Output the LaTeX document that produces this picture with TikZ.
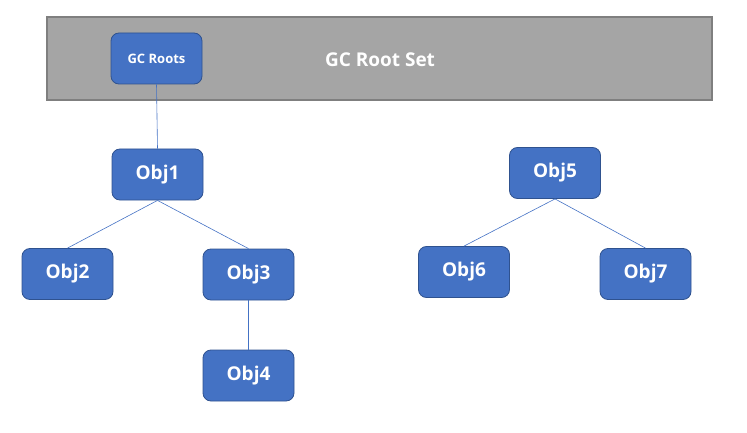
\documentclass[tikz,border=0pt]{standalone}
\usepackage{fontspec}
\setmainfont{Open Sans}
\usepackage{tikz}

\tikzset{
  objbox/.style={draw=objedge, fill=objblue, rounded corners=8pt, line width=0.8pt,
    minimum width=91pt, minimum height=51pt, text=white,
    font=\fontsize{19}{22}\selectfont\bfseries},
  link/.style={draw=objblue, line width=0.6pt}
}
\definecolor{objblue}{HTML}{4472C4}
\definecolor{objedge}{HTML}{2F528F}
\definecolor{rootgray}{HTML}{A5A5A5}
\definecolor{rootedge}{HTML}{7F7F7F}

\begin{document}
\begin{tikzpicture}[x=1pt, y=-1pt]
  \useasboundingbox (0,0) rectangle (747,433);
  \node (rootset) [draw=rootedge, fill=rootgray, line width=1.5pt, minimum width=665pt, minimum height=83pt, inner sep=0pt] at (379.5,58.5) {};
  \node (setlabel) [text=white, font=\fontsize{19}{22}\selectfont\bfseries] at (380,60) {GC Root Set};
  \node (roots) [objbox, font=\fontsize{13}{15}\selectfont\bfseries] at (156.5,58.5) {GC Roots};
  \node (obj1) [objbox] at (157.5,174.5) {Obj1};
  \node (obj2) [objbox] at (67.5,274) {Obj2};
  \node (obj3) [objbox] at (248.5,274.5) {Obj3};
  \node (obj4) [objbox] at (248.5,375.5) {Obj4};
  \node (obj5) [objbox] at (555,173) {Obj5};
  \node (obj6) [objbox] at (464,272) {Obj6};
  \node (obj7) [objbox] at (645.5,274) {Obj7};

  \draw[link] (roots.south) -- (obj1.north);
  \draw[link] (obj1.south) -- (obj2.north);
  \draw[link] (obj1.south) -- (obj3.north);
  \draw[link] (obj3.south) -- (obj4.north);
  \draw[link] (obj5.south) -- (obj6.north);
  \draw[link] (obj5.south) -- (obj7.north);
\end{tikzpicture}
\end{document}
